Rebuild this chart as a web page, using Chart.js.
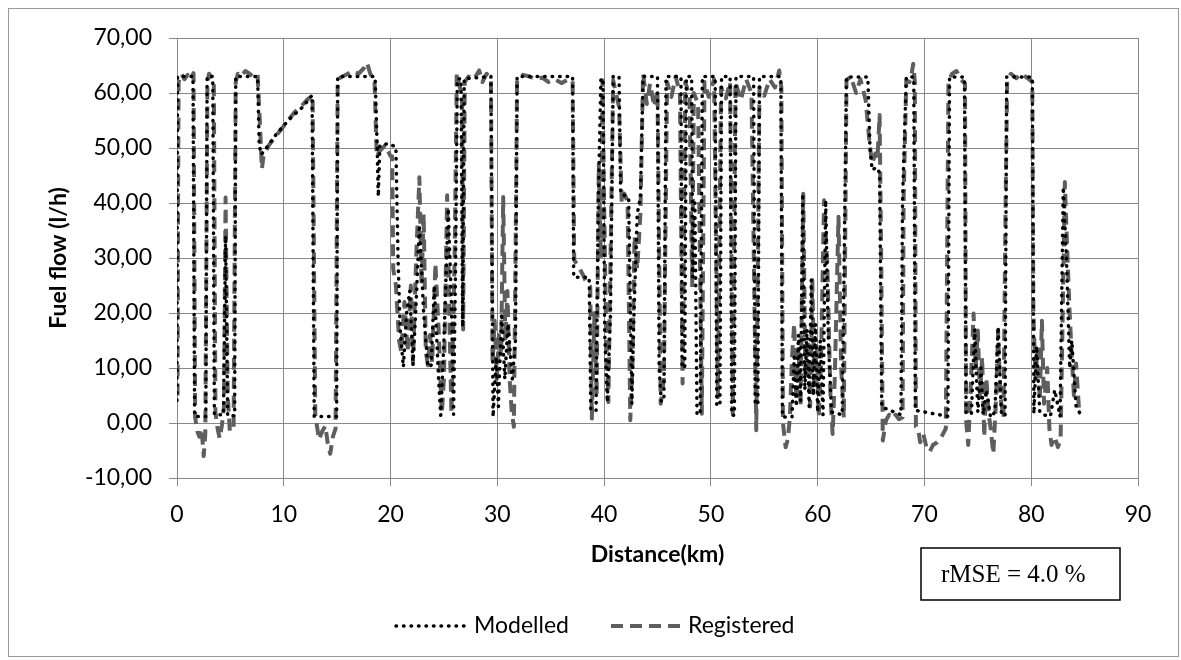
<!DOCTYPE html>
<html>
<head>
<meta charset="utf-8">
<title>Fuel flow</title>
<script src="https://cdn.jsdelivr.net/npm/chart.js@4.4.1/dist/chart.umd.min.js"></script>
<style>
  html, body { margin: 0; padding: 0; background: #fff; }
  canvas { display: block; }
</style>
</head>
<body>
<canvas id="fuelFlow" width="1181" height="660"></canvas>
<script>
// distance (km) and fuel flow (l/h) along the route
var modelledKm = [0.00, 0.05, 1.50, 1.65, 2.70, 2.82, 3.35, 3.50, 4.35, 4.55, 4.75, 5.40, 5.50, 7.55, 7.70, 7.90, 8.20, 9.30, 10.50, 11.80, 12.65, 12.85, 14.95, 15.05, 18.55, 18.75, 18.85, 19.00, 19.80, 20.50, 20.70, 20.90, 21.20, 21.50, 21.80, 22.10, 22.40, 22.70, 23.10, 23.50, 23.80, 24.10, 24.50, 24.70, 25.00, 25.40, 25.70, 25.90, 26.10, 26.25, 26.60, 26.75, 26.90, 29.40, 29.60, 29.90, 30.10, 30.40, 30.70, 31.00, 31.40, 31.70, 31.85, 37.05, 37.15, 38.60, 38.75, 39.25, 39.45, 39.70, 39.90, 40.05, 40.30, 40.60, 40.85, 41.40, 41.55, 42.30, 42.60, 42.80, 43.10, 43.40, 43.65, 45.00, 45.15, 45.35, 45.60, 45.80, 47.20, 47.30, 47.55, 47.70, 48.20, 48.30, 48.50, 48.70, 49.00, 49.20, 50.40, 50.55, 50.85, 51.00, 51.80, 51.95, 52.20, 52.35, 54.00, 54.15, 54.40, 54.55, 56.55, 56.70, 57.60, 57.80, 58.00, 58.20, 58.40, 58.60, 58.80, 59.00, 59.20, 59.40, 59.60, 59.80, 60.00, 60.25, 60.50, 60.75, 61.00, 61.30, 62.30, 62.70, 64.70, 64.90, 65.10, 65.50, 65.80, 66.00, 67.80, 67.95, 68.30, 69.00, 69.15, 72.20, 72.35, 73.75, 73.90, 74.40, 74.70, 75.00, 75.30, 75.50, 75.80, 76.20, 76.60, 76.90, 77.20, 77.55, 77.70, 80.10, 80.25, 80.50, 80.80, 81.10, 81.80, 82.20, 82.70, 83.00, 83.30, 83.60, 83.80, 84.20, 84.50, 84.70];
var modelledFlow = [4.1, 63, 63, 1.2, 1.2, 63, 63, 1.5, 1.5, 34, 1.3, 1.3, 63, 63, 50.5, 48.8, 49.6, 52.5, 55.2, 57.5, 59.6, 1.2, 1.2, 63, 63, 50, 41.2, 50.5, 50.8, 50.2, 30, 17, 10.2, 20, 24, 10.5, 22, 36, 20, 10.2, 10.5, 25, 8, 1.4, 15, 39, 22, 1.6, 30, 62.6, 62.6, 17.5, 62.6, 63, 1.1, 12, 3, 20, 8, 18, 8, 15, 63, 63, 26.5, 26.5, 2.3, 2.3, 40, 62.6, 62.6, 16.8, 3.8, 20, 63, 63, 41.7, 41, 3.5, 20, 38, 41, 63, 63, 10.2, 4, 4, 63, 63, 10.2, 10, 63, 63, 26.5, 40, 1.6, 1.6, 63, 63, 3.2, 3.2, 63, 63, 1.4, 1.4, 63, 63, 3.4, 3.4, 63, 63, 1.1, 1.1, 12, 3, 16, 4, 41.7, 6, 17, 3, 26, 5, 18, 2, 15, 1.5, 40.5, 15, 2, 1.5, 62.9, 62.9, 50, 46, 46.5, 45.5, 2.9, 1.5, 40.5, 62.9, 62.9, 2.3, 1.2, 62.9, 62.9, 1.7, 1.7, 17, 2, 10, 1.5, 6, 1, 2, 17.5, 2, 1.2, 62.9, 62.9, 1.7, 14, 2, 1.5, 1.2, 6, 1.2, 42.9, 30, 10, 15, 3, 2, 1];

var registeredKm = [0.05, 0.10, 0.15, 0.40, 0.70, 1.00, 1.30, 1.55, 1.70, 1.90, 2.10, 2.30, 2.50, 2.65, 2.85, 3.00, 3.20, 3.45, 3.60, 3.80, 4.00, 4.20, 4.40, 4.55, 4.75, 4.95, 5.30, 5.50, 5.70, 6.00, 6.40, 6.80, 7.20, 7.55, 7.75, 7.95, 8.10, 8.60, 9.20, 9.80, 10.40, 11.00, 11.60, 12.20, 12.70, 12.95, 13.30, 13.60, 13.90, 14.10, 14.35, 14.60, 14.85, 15.05, 15.50, 16.00, 16.50, 17.00, 17.50, 17.80, 18.10, 18.50, 18.70, 19.00, 19.50, 20.00, 20.15, 20.25, 20.50, 20.80, 21.00, 21.30, 21.60, 21.90, 22.10, 22.40, 22.70, 22.90, 23.10, 23.30, 23.50, 23.70, 23.90, 24.20, 24.50, 24.80, 25.00, 25.30, 25.50, 25.70, 26.00, 26.20, 26.50, 26.70, 26.80, 26.95, 27.30, 27.80, 28.30, 28.60, 29.00, 29.40, 29.55, 29.75, 29.95, 30.15, 30.35, 30.55, 30.75, 30.95, 31.15, 31.35, 31.55, 31.75, 31.85, 32.40, 33.00, 33.60, 34.20, 34.80, 35.40, 36.00, 36.60, 37.05, 37.20, 37.60, 38.00, 38.40, 38.70, 38.85, 39.10, 39.30, 39.50, 39.70, 39.85, 40.00, 40.20, 40.40, 40.60, 40.85, 41.10, 41.40, 41.65, 41.90, 42.20, 42.45, 42.65, 42.85, 43.10, 43.40, 43.65, 44.00, 44.30, 44.70, 45.00, 45.30, 45.60, 45.90, 46.30, 46.70, 47.10, 47.35, 47.60, 48.00, 48.25, 48.40, 48.80, 49.15, 49.40, 49.80, 50.30, 50.65, 50.95, 51.40, 51.80, 52.05, 52.30, 52.80, 53.30, 53.80, 54.25, 54.55, 55.00, 55.50, 56.00, 56.40, 56.60, 56.75, 57.00, 57.20, 57.40, 57.60, 57.80, 58.00, 58.20, 58.40, 58.65, 58.85, 59.10, 59.30, 59.50, 59.70, 59.90, 60.10, 60.30, 60.60, 60.90, 61.20, 61.40, 61.60, 61.95, 62.20, 62.45, 62.70, 63.10, 63.60, 64.00, 64.50, 64.85, 65.10, 65.40, 65.60, 65.80, 65.95, 66.10, 66.40, 66.70, 67.00, 67.30, 67.60, 67.95, 68.05, 68.30, 68.60, 68.80, 68.95, 69.10, 69.20, 69.40, 69.60, 69.90, 70.20, 70.50, 70.80, 71.20, 71.60, 72.00, 72.25, 72.60, 73.00, 73.40, 73.80, 73.90, 74.10, 74.30, 74.60, 74.80, 75.00, 75.20, 75.40, 75.60, 75.80, 76.00, 76.20, 76.45, 76.70, 76.90, 77.10, 77.40, 77.60, 77.75, 78.10, 78.60, 79.10, 79.60, 80.10, 80.20, 80.40, 80.60, 80.80, 81.00, 81.20, 81.50, 81.70, 81.90, 82.20, 82.50, 82.75, 82.95, 83.15, 83.40, 83.60, 83.80, 84.00, 84.20, 84.50];
var registeredFlow = [5, 40, 62, 63.5, 62.5, 63.3, 62.6, 63.6, 1, -1.5, -2.5, -1, -6, -2, 62, 63.5, 63, 62.5, 2, -1, -2.8, -0.5, 3, 41, 5, -1.5, -1, 62, 63.5, 63, 64, 63.5, 62.8, 63.3, 55, 46.2, 48.5, 50.5, 52, 53.5, 55, 56.5, 57.5, 58.8, 59.5, 1.5, -3, -1.5, -0.5, -3.5, -5.6, -2.5, -1, 62.5, 63, 63.5, 64, 63.5, 64.5, 65.5, 63.5, 62, 48.5, 49.5, 50.5, 48.5, 48.5, 28, 25, 15, 13, 22, 13, 25, 11, 30, 44.7, 25, 38, 13, 10.5, 16, 11, 29, 17, 1.7, 8, 41.4, 20, 1.7, 30, 63.5, 61, 59.3, 17, 62, 63, 62.5, 64.1, 62, 63.5, 62.5, 10.8, 18.6, 8, 16, 12, 41.1, 15, 24, 8, 2, -0.7, 40, 62.3, 63.3, 63, 62.5, 62.8, 62, 62.5, 61.8, 62.4, 62.3, 29.6, 28.5, 27, 25.3, 24.8, 0.8, 20, 5, 47, 30, 62.3, 40, 15, 3.8, 30, 62.3, 60, 57.5, 39.9, 41.7, 40.2, 0.5, 10, 34, 28, 38, 63.5, 58, 61.7, 57.5, 60.5, 3.5, 8, 62, 59.3, 63, 60, 7.2, 62, 59.5, 24.7, 60, 58, 1.7, 62, 59.3, 62.5, 4.7, 61, 59, 62, 1.7, 62, 58.7, 62.5, 60, -1.3, 61, 59.5, 62.5, 61, 64.1, 61, 0, -4.4, -3, 1, 12, 18, 4, 14, 3, 41.7, 8, 15, 3, 26, 6, 14, 1, 10, 40.5, 29, 5, -2, 8, 37.5, 10, 1, 62.3, 63, 60, 62.5, 58.7, 51, 47.2, 49, 48, 56, 30, -3.2, 0.5, 1.5, 0.8, 1.5, 0.7, 1, 40.5, 62.3, 62, 63.5, 65.3, 62, -0.7, -1, -3.5, -2, -4.5, -5.2, -4, -3.5, -2.5, -1, 62.3, 63.5, 64, 62.5, 61.7, 0.5, -4, 5, 19.9, 10, 16.8, 4.7, 12, -2.5, 8, 2, -1, -5.6, 4, 16.8, 5, 1, 40, 62.3, 63.5, 62.7, 63.5, 62.8, 62, 20.5, 8, 14, 4, 18.6, 3.5, 10, -1, -4, -2.5, -4.4, -3, 20, 43.8, 30, 20, 12, 5, 10.8, 1.7];

var distanceTicks = [0, 10, 20, 30, 40, 50, 60, 70, 80, 90];
var flowTicks = [-10, 0, 10, 20, 30, 40, 50, 60, 70];
var seriesNames = ['Modelled', 'Registered'];
var errorNote = 'rMSE = 4.0 %';

function toPoints(xs, ys) {
    return xs.map(function (x, i) { return { x: x, y: ys[i] }; });
}

Chart.defaults.font.family = 'Lato';
Chart.defaults.color = '#000';

var gridGrey = '#898989';

// outer frame around the whole chart
var chartFrame = {
    id: 'chartFrame',
    afterDraw: function (chart) {
        var ctx = chart.ctx;
        ctx.save();
        ctx.strokeStyle = '#999';
        ctx.lineWidth = 1;
        ctx.strokeRect(8.5, 8.5, 1170, 648);
        ctx.restore();
    }
};

// boxed rMSE note below the plot
var noteBox = {
    id: 'noteBox',
    afterDraw: function (chart) {
        var ctx = chart.ctx;
        ctx.save();
        ctx.strokeStyle = '#000';
        ctx.lineWidth = 1.5;
        ctx.strokeRect(921, 548, 199, 52);
        ctx.fillStyle = '#000';
        ctx.font = '25px "Liberation Serif", "Times New Roman", serif';
        ctx.textBaseline = 'middle';
        ctx.textAlign = 'left';
        ctx.fillText(errorNote, 941, 575);
        ctx.restore();
    }
};

// legend row with line samples taken from the datasets
var lineLegend = {
    id: 'lineLegend',
    afterDraw: function (chart) {
        var ctx = chart.ctx;
        var rows = [
            { x0: 396, x1: 466, tx: 474 },
            { x0: 611, x1: 681, tx: 688 }
        ];
        var y = 626;
        ctx.save();
        chart.data.datasets.forEach(function (ds, i) {
            var r = rows[i];
            ctx.beginPath();
            ctx.strokeStyle = ds.borderColor;
            ctx.lineWidth = ds.borderWidth;
            ctx.lineCap = ds.borderCapStyle;
            ctx.setLineDash(ds.borderDash);
            ctx.moveTo(r.x0, y);
            ctx.lineTo(r.x1, y);
            ctx.stroke();
            ctx.setLineDash([]);
            ctx.fillStyle = '#000';
            ctx.font = '23px Lato';
            ctx.textBaseline = 'middle';
            ctx.textAlign = 'left';
            ctx.fillText(ds.label, r.tx, y);
        });
        ctx.restore();
    }
};

var ctx = document.getElementById('fuelFlow');
var fuelChart = new Chart(ctx, {
    type: 'scatter',
    plugins: [chartFrame, noteBox, lineLegend],
    data: {
        datasets: [
            {
                label: seriesNames[0],
                data: toPoints(modelledKm, modelledFlow),
                showLine: true,
                borderColor: '#000',
                borderWidth: 3.5,
                borderDash: [0.5, 7],
                borderCapStyle: 'round',
                borderJoinStyle: 'round',
                pointRadius: 0,
                tension: 0,
            },
            {
                label: seriesNames[1],
                data: toPoints(registeredKm, registeredFlow),
                showLine: true,
                borderColor: '#5e5e5e',
                borderWidth: 4,
                borderDash: [12, 7],
                borderCapStyle: 'butt',
                borderJoinStyle: 'round',
                pointRadius: 0,
                tension: 0,
            },
        ]
    },
    options: {
        responsive: false,
        animation: false,
        devicePixelRatio: 1,
        layout: {
            padding: { top: 38, right: 43, bottom: 0, left: 0 },
        },
        plugins: {
            legend: { display: false },
            tooltip: { enabled: false },
        },
        scales: {
            x: {
                type: 'linear',
                min: 0,
                max: 90,
                afterBuildTicks: function (scale) {
                    scale.ticks = distanceTicks.map(function (v) { return { value: v }; });
                },
                afterFit: function (scale) { scale.height = 182; },
                grid: {
                    color: gridGrey,
                    tickLength: 8,
                },
                border: { color: gridGrey },
                ticks: {
                    maxRotation: 0,
                    padding: 15,
                    font: { size: 23 },
                },
                title: {
                    display: true,
                    text: 'Distance(km)',
                    font: { size: 23, weight: 'bold' },
                    padding: { top: 0, bottom: 92 },
                },
            },
            y: {
                type: 'linear',
                min: -10,
                max: 70,
                afterBuildTicks: function (scale) {
                    scale.ticks = flowTicks.map(function (v) { return { value: v }; });
                },
                afterFit: function (scale) { scale.width = 177; },
                grid: {
                    color: gridGrey,
                    tickLength: 8,
                },
                border: { color: gridGrey },
                ticks: {
                    padding: 17,
                    font: { size: 23 },
                    callback: function (v) {
                        return v.toFixed(2).replace('.', ',');
                    }
                },
                title: {
                    display: true,
                    text: 'Fuel flow (l/h)',
                    font: { size: 23, weight: 'bold' },
                    padding: { top: 45, bottom: 0 },
                },
            },
        },
    },
});
</script>
</body>
</html>
